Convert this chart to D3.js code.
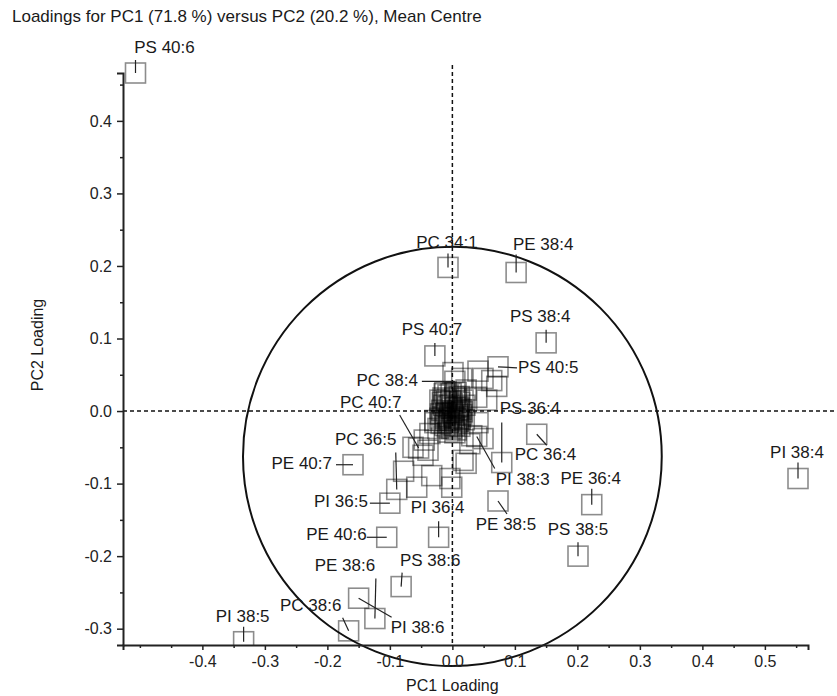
<!DOCTYPE html>
<html>
<head>
<meta charset="utf-8">
<script src="https://cdn.jsdelivr.net/npm/d3@7"></script>
<style>
  body { margin: 0; background: #fff; }
  svg text { font-family: Arial, "Liberation Sans", sans-serif; }
</style>
</head>
<body>
<svg id="chart" width="837" height="696"></svg>
<script>
// labelled loadings (PC1, PC2)
const labelNames = ["PS 40:6", "PC 34:1", "PE 38:4", "PS 40:7", "PS 38:4", "PS 40:5", "PC 38:4",
  "PC 40:7", "PS 36:4", "PC 36:4", "PI 38:3", "PC 36:5", "PE 40:7", "PI 36:5", "PE 40:6",
  "PI 36:4", "PS 38:6", "PE 38:6", "PI 38:6", "PC 38:6", "PI 38:5", "PE 38:5", "PS 38:5",
  "PE 36:4", "PI 38:4"];
const labelPC1 = [-0.507, -0.007, 0.102, -0.028, 0.150, 0.073, 0.004,
  -0.054, 0.079, 0.135, 0.039, -0.089, -0.159, -0.100, -0.105,
  -0.022, -0.082, -0.124, -0.150, -0.166, -0.334, 0.073, 0.201,
  0.223, 0.553];
const labelPC2 = [0.466, 0.198, 0.191, 0.076, 0.094, 0.061, 0.041,
  -0.051, -0.071, -0.032, -0.035, -0.108, -0.074, -0.127, -0.174,
  -0.174, -0.242, -0.286, -0.258, -0.303, -0.318, -0.124, -0.200,
  -0.129, -0.093];

// unlabelled loadings near the centre
const otherPC1 = [0.001, 0.015, 0.041, 0.049, 0.063, 0.071, 0.039, 0.022, -0.012, -0.020,
  -0.007, 0.004, 0.012, -0.014, -0.001, 0.009, -0.010, 0.002, 0.015, -0.020,
  -0.004, 0.007, -0.012, -0.001, -0.023, 0.012, -0.007, -0.017, 0.020, -0.028,
  -0.015, 0.006, 0.000, 0.005, -0.005, 0.010, -0.009, 0.017, -0.018, 0.003,
  -0.039, -0.028, -0.036, 0.031, 0.049, 0.017, 0.022, -0.063, -0.047, -0.078,
  -0.033, -0.057, -0.004, -0.001, 0.041, 0.055, -0.045, 0.028,
  -0.010, -0.003, 0.004, 0.011, -0.016, -0.008, 0.000, 0.008, 0.014, -0.012,
  -0.006, 0.003, 0.010, -0.019, -0.002, 0.006, 0.013, -0.011, -0.004, 0.001,
  0.009, -0.015, -0.008, 0.016, 0.004, -0.002, -0.013, 0.011, 0.019, -0.006];
const otherPC2 = [0.053, 0.045, 0.055, 0.045, 0.042, 0.034, 0.019, 0.029, 0.026, 0.015,
  0.022, 0.018, 0.012, 0.008, 0.004, 0.001, -0.003, -0.006, -0.005, -0.010,
  -0.013, -0.016, -0.020, -0.024, -0.024, -0.021, -0.029, 0.001, 0.008, -0.013,
  0.018, 0.026, 0.010, 0.005, -0.008, -0.010, 0.013, 0.015, -0.017, -0.020,
  -0.054, -0.016, -0.031, -0.034, -0.038, -0.068, -0.072, -0.050, -0.061, -0.083,
  -0.089, -0.105, -0.093, -0.105, -0.016, 0.015, -0.040, -0.045,
  0.016, 0.014, 0.020, 0.004, 0.012, 0.006, -0.002, -0.004, 0.002, -0.006,
  -0.011, -0.009, -0.014, -0.004, -0.018, -0.026, -0.011, -0.013, 0.008, 0.000,
  0.006, -0.008, -0.022, -0.001, -0.030, 0.024, 0.024, 0.020, -0.012, -0.016];

const xTicks = [-0.4, -0.3, -0.2, -0.1, 0.0, 0.1, 0.2, 0.3, 0.4, 0.5];
const yTicks = [-0.3, -0.2, -0.1, 0.0, 0.1, 0.2, 0.3, 0.4];
const xMinor = [-0.5, -0.45, -0.35, -0.25, -0.15, -0.05, 0.05, 0.15, 0.25, 0.35, 0.45, 0.55];
const yMinor = [-0.25, -0.15, -0.05, 0.05, 0.15, 0.25, 0.35, 0.45];

// confidence circle: centre and radii in loading units
const circleCentre = [0.0, -0.0625];
const circleRadius = [0.335, 0.289];

// label placement: text dx, text dy (baseline), anchor, leader end dx, dy (pixels from point)
const labelPlacement = {
  "PS 40:6": [29, -20, "middle", 0, -13],
  "PC 34:1": [-1, -19, "middle", 0, -14],
  "PE 38:4": [27, -22, "middle", 0, -18],
  "PS 40:7": [-3, -21, "middle", 0, -13],
  "PS 38:4": [-6, -21, "middle", 0, -13],
  "PS 40:5": [20, 6, "start", 19, 1],
  "PC 38:4": [-37, 5, "end", -33, 0],
  "PC 40:7": [-48, -40, "middle", -19, -33],
  "PS 36:4": [-2, -49, "start", 0, -40],
  "PC 36:4": [-22, 26, "start", 10, 11],
  "PI 38:3": [19, 49, "start", 18, 32],
  "PC 36:5": [-31, -44, "middle", -1, -37],
  "PE 40:7": [-21, 4, "end", -17, 0],
  "PI 36:5": [-22, 4, "end", -20, 0],
  "PE 40:6": [-20, 3, "end", -20, 0],
  "PI 36:4": [-1, -24, "middle", 0, -16],
  "PS 38:6": [29, -21, "middle", 1, -14],
  "PE 38:6": [-30, -48, "middle", 1, -40],
  "PI 38:6": [32, 35, "start", 33, 19],
  "PC 38:6": [-38, -20, "middle", -6, -13],
  "PI 38:5": [-1, -20, "middle", 0, -15],
  "PE 38:5": [8, 29, "middle", 9, 13],
  "PS 38:5": [0, -21, "middle", 0, -14],
  "PE 36:4": [-1, -21, "middle", 0, -16],
  "PI 38:4": [-1, -21, "middle", 0, -16]
};

const svg = d3.select("#chart");
const margin = { top: 73, right: 29, bottom: 51, left: 123 };
const width = 837, height = 696;

const x = d3.scaleLinear().domain([-0.527, 0.569]).range([margin.left, width - margin.right]);
const y = d3.scaleLinear().domain([-0.3225, 0.466]).range([height - margin.bottom, margin.top]);
const fmt = d => d.toFixed(1);
const boxSize = 20;
const fontStack = "Arial, 'Liberation Sans', sans-serif";

svg.append("defs").append("clipPath").attr("id", "plotClip")
  .append("rect").attr("x", 0).attr("y", 0).attr("width", width).attr("height", y.range()[0]);

// title
svg.append("text")
  .attr("x", 12).attr("y", 22)
  .attr("font-size", 17).attr("fill", "#1a1a1a")
  .text("Loadings for PC1 (71.8 %) versus PC2 (20.2 %), Mean Centre");

// zero reference lines
svg.append("line")
  .attr("x1", x(0)).attr("x2", x(0))
  .attr("y1", 65).attr("y2", y.range()[0])
  .attr("stroke", "#111").attr("stroke-width", 1.5).attr("stroke-dasharray", "4,3");
svg.append("line")
  .attr("x1", x.range()[0]).attr("x2", width)
  .attr("y1", y(0)).attr("y2", y(0))
  .attr("stroke", "#111").attr("stroke-width", 1.5).attr("stroke-dasharray", "4,3");

// circle
svg.append("ellipse")
  .attr("cx", x(circleCentre[0])).attr("cy", y(circleCentre[1]))
  .attr("rx", x(circleRadius[0]) - x(0)).attr("ry", y(0) - y(circleRadius[1]))
  .attr("fill", "none").attr("stroke", "#111").attr("stroke-width", 2);

// squares: translucent strokes so the crowded centre turns dark
const boxes = svg.append("g").attr("clip-path", "url(#plotClip)");
const others = otherPC1.map((v, i) => ({ pc1: v, pc2: otherPC2[i] }));
const labelled = labelNames.map((n, i) => ({ name: n, pc1: labelPC1[i], pc2: labelPC2[i] }));

boxes.selectAll("rect.other")
  .data(others).enter().append("rect")
  .attr("class", "other")
  .attr("x", d => x(d.pc1) - boxSize / 2).attr("y", d => y(d.pc2) - boxSize / 2)
  .attr("width", boxSize).attr("height", boxSize)
  .attr("fill", "none").attr("stroke", "#000").attr("stroke-opacity", 0.45).attr("stroke-width", 1.6);

boxes.selectAll("rect.lab")
  .data(labelled).enter().append("rect")
  .attr("class", "lab")
  .attr("x", d => x(d.pc1) - boxSize / 2).attr("y", d => y(d.pc2) - boxSize / 2)
  .attr("width", boxSize).attr("height", boxSize)
  .attr("fill", "none").attr("stroke", "#000").attr("stroke-opacity", 0.45).attr("stroke-width", 1.6);

// leaders and labels
const labels = svg.append("g");
labelled.forEach(d => {
  const p = labelPlacement[d.name];
  const px = x(d.pc1), py = y(d.pc2);
  labels.append("line")
    .attr("x1", px).attr("y1", py)
    .attr("x2", px + p[3]).attr("y2", py + p[4])
    .attr("stroke", "#222").attr("stroke-width", 1.2);
  labels.append("text")
    .attr("x", px + p[0]).attr("y", py + p[1])
    .attr("text-anchor", p[2])
    .attr("font-size", 17).attr("fill", "#1a1a1a")
    .text(d.name);
});

// axes
svg.append("g")
  .attr("transform", `translate(0,${y.range()[0]})`)
  .call(d3.axisBottom(x).tickValues(xTicks).tickFormat(fmt).tickSizeOuter(0).tickSize(5).tickPadding(6));
svg.append("g")
  .attr("transform", `translate(0,${y.range()[0]})`)
  .call(d3.axisBottom(x).tickValues(xMinor).tickFormat("").tickSizeOuter(0).tickSize(3))
  .call(g => g.select(".domain").remove());

svg.append("g")
  .attr("transform", `translate(${x.range()[0]},0)`)
  .call(d3.axisLeft(y).tickValues(yTicks).tickFormat(fmt).tickSizeOuter(0).tickSize(6).tickPadding(5));
svg.append("g")
  .attr("transform", `translate(${x.range()[0]},0)`)
  .call(d3.axisLeft(y).tickValues(yMinor).tickFormat("").tickSizeOuter(0).tickSize(3))
  .call(g => g.select(".domain").remove());

svg.selectAll(".domain").attr("stroke", "#222").attr("stroke-width", 2);
svg.selectAll(".tick line").attr("stroke", "#222").attr("stroke-width", 1.5);
svg.selectAll(".tick text")
  .attr("font-size", 16).attr("fill", "#222")
  .attr("font-family", fontStack);

// axis titles
svg.append("text")
  .attr("x", x(0)).attr("y", 691)
  .attr("text-anchor", "middle").attr("font-size", 16).attr("fill", "#1a1a1a")
  .text("PC1 Loading");
svg.append("text")
  .attr("transform", "translate(43,345) rotate(-90)")
  .attr("text-anchor", "middle").attr("font-size", 16).attr("fill", "#1a1a1a")
  .text("PC2 Loading");
</script>
</body>
</html>
